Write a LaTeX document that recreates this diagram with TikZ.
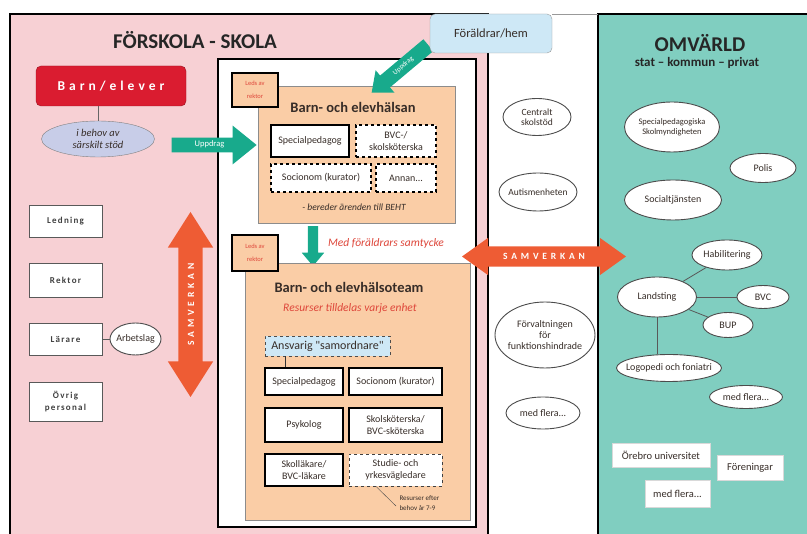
\documentclass[tikz,border=0pt]{standalone}
\usepackage{fontspec}
\setmainfont{Carlito}[Ligatures=TeXOff]
\usepackage{tikz}
\usetikzlibrary{shapes.geometric, shapes.arrows}
\definecolor{pinkbg}{RGB}{247,208,212}
\definecolor{tealbg}{RGB}{128,206,192}
\definecolor{peach}{RGB}{250,205,166}
\definecolor{barnred}{RGB}{218,28,48}
\definecolor{lavender}{RGB}{200,205,232}
\definecolor{uppgreen}{RGB}{24,170,140}
\definecolor{samorange}{RGB}{238,92,52}
\definecolor{hemblue}{RGB}{206,232,246}
\definecolor{notered}{RGB}{222,70,58}
\definecolor{ink}{RGB}{55,45,40}
\tikzstyle{member} = [draw=black, line width=1.4pt, fill=white, align=center, inner sep=0pt, text=ink, font=\fontsize{10}{11.5}\selectfont]
\tikzstyle{maybe} = [member, dashed, line width=1.1pt]
\tikzstyle{staff} = [draw=black!65, line width=0.9pt, fill=white, align=center, inner sep=0pt, minimum width=73pt, text=black!75, font=\fontsize{9}{12}\selectfont\bfseries\addfontfeature{LetterSpace=14}]
\tikzstyle{oval} = [ellipse, draw=black!70, line width=0.9pt, fill=white, align=center, inner sep=-3pt, text=ink, font=\fontsize{10}{11}\selectfont]
\tikzstyle{plate} = [fill=white, draw=white!85!black, inner sep=0pt, text=ink, font=\fontsize{10.5}{12}\selectfont]
\tikzstyle{ledsav} = [draw=black, line width=1.1pt, fill=peach, align=center, inner sep=0pt, minimum width=46pt, text=notered, font=\fontsize{6.5}{13}\selectfont]
\tikzstyle{note} = [text=notered, font=\fontsize{11.5}{13}\selectfont\itshape]
\tikzstyle{heading} = [text=ink, font=\fontsize{14.5}{16}\selectfont\bfseries]
\tikzstyle{uppdrag} = [single arrow, fill=uppgreen, text=white, inner xsep=0pt, single arrow head indent=0pt, text height=5pt, text depth=1.5pt, font=\fontsize{8.5}{9}\selectfont]
\tikzstyle{samverkan} = [double arrow, fill=samorange, text=white, inner xsep=0pt, double arrow head indent=0pt, text height=7pt, text depth=0pt, font=\fontsize{9.5}{10}\selectfont\bfseries\addfontfeature{LetterSpace=40}]

\begin{document}
\begin{tikzpicture}[x=1pt, y=-1pt]
	\useasboundingbox (0,0) rectangle (807,534);
	\fill[pinkbg] (10,14) rectangle (488,534);
	\fill[tealbg] (598,14) rectangle (807,534);
	\draw[line width=1.6pt] (10,534) -- (10,14) -- (488,14) -- (488,534);
	\draw[line width=1.6pt] (598,534) -- (598,14) -- (807,14);
	\draw[black!40] (552,14) -- (598,14);
	\draw[line width=1.3pt, fill=white] (218,59) rectangle (476,527);

	\node[text=black!85, font=\fontsize{21}{23}\selectfont\bfseries] (skola) at (195,40) {FÖRSKOLA - SKOLA};
	\node[text=black!85, font=\fontsize{21}{23}\selectfont\bfseries] (omv) at (700,43) {OMVÄRLD};
	\node[text=black!85, font=\fontsize{13}{15}\selectfont\bfseries] (svk) at (697,63) {stat – kommun – privat};

	\node[draw=barnred!70!black, fill=barnred, rounded corners=5pt, minimum width=150pt, minimum height=40pt, text=white, font=\fontsize{13.5}{15}\selectfont\bfseries\addfontfeature{LetterSpace=30}] (barn) at (111,86) {Barn/elever};
	\node[ellipse, draw=black!50, fill=lavender, minimum width=113pt, minimum height=36pt, inner sep=-4pt, align=center, text=ink, font=\fontsize{10.5}{11.5}\selectfont\itshape] (stod) at (98,139) {i behov av\\särskilt stöd};
	\draw[black!60] (stod.north) -- (stod.north |- barn.south);
	\node[uppdrag, minimum height=85pt, inner ysep=4pt, single arrow head extend=12pt, single arrow tip angle=78] (upp1) at (209.5,145) {Uppdrag};

	\node[staff, minimum height=32pt] (ledn) at (65.5,221) {Ledning};
	\node[staff, minimum height=34pt] (rekt) at (65.5,280) {Rektor};
	\node[staff, minimum height=32pt] (lara) at (65.5,339) {Lärare};
	\node[staff, minimum height=39pt] (ovr) at (65.5,401.5) {Övrig\\personal};
	\node[oval, minimum width=51pt, minimum height=32pt, inner sep=-5pt] (arbl) at (135.5,339) {Arbetslag};
	\draw[black!65] (lara) -- (arbl);
	\node[samverkan, rotate=90, minimum height=185pt, inner ysep=8.5pt, double arrow head extend=10.5pt, double arrow tip angle=65] (samv1) at (190.5,304.5) {SAMVERKAN};

	\node[draw=black!45, fill=peach, minimum width=197pt, minimum height=137pt] (elevh) at (356.5,154.5) {};
	\node[ledsav, minimum height=34pt] (led1) at (255,90) {Leds av\\rektor};
	\node[heading] (elevht) at (353,107) {Barn- och elevhälsan};
	\node[member, minimum width=78pt, minimum height=32pt] (spec1) at (310,141) {Specialpedagog};
	\node[maybe, minimum width=80pt, minimum height=32pt] (bvc1) at (396,141) {BVC-/\\skolsköterska};
	\node[maybe, minimum width=100pt, minimum height=28pt] (soc1) at (321,178) {Socionom (kurator)};
	\node[maybe, minimum width=60pt, minimum height=28pt] (annan) at (406,178) {Annan...};
	\node[text=ink, font=\fontsize{9.5}{11}\selectfont\itshape] (bereder) at (354,207) {- bereder ärenden till BEHT};

	\node[uppdrag, rotate=-90, minimum height=40pt, text height=0pt, text depth=0pt, inner ysep=5pt, single arrow head extend=6pt, single arrow tip angle=80] (ned) at (313,243) {};
	\node[note] (samt) at (386,243) {Med föräldrars samtycke};

	\node[draw=black!45, fill=peach, minimum width=225pt, minimum height=257pt] (team) at (357.5,391.5) {};
	\node[ledsav, minimum height=36pt] (led2) at (255,253) {Leds av\\rektor};
	\node[heading] (teamt) at (349,287) {Barn- och elevhälsoteam};
	\node[note] (resurs) at (350,308) {Resurser tilldelas varje enhet};
	\node[maybe, fill=hemblue, draw=black!70, line width=0.9pt, minimum width=125pt, minimum height=20pt, font=\fontsize{12}{13}\selectfont] (samord) at (327.5,346) {Ansvarig "samordnare"};
	\node[member, minimum width=78pt, minimum height=27pt] (spec2) at (304,381.5) {Specialpedagog};
	\node[member, minimum width=93pt, minimum height=27pt] (soc2) at (395.5,381.5) {Socionom (kurator)};
	\node[member, minimum width=78pt, minimum height=34pt] (psyk) at (304,425) {Psykolog};
	\node[member, minimum width=93pt, minimum height=34pt] (skol) at (395.5,425) {Skolsköterska/\\BVC-sköterska};
	\node[member, minimum width=78pt, minimum height=32pt] (lakare) at (304,470) {Skolläkare/\\BVC-läkare};
	\node[maybe, draw=black!75, line width=0.9pt, minimum width=93pt, minimum height=32pt] (syv) at (395.5,470) {Studie- och\\yrkesvägledare};
	\draw[black!80, line width=0.9pt] ([xshift=-42pt]samord.south) -- ([xshift=-42pt]samord.south |- spec2.north);
	\node[anchor=west, align=left, text=ink, font=\fontsize{7}{10}\selectfont] (behov) at (396,503) {Resurser efter\\behov år 7-9};
	\draw[black!70] ([xshift=-19.5pt]syv.south) -- ([yshift=-3pt]behov.west);

	\node[oval, minimum width=68pt, minimum height=37pt, font=\fontsize{9.5}{10.5}\selectfont] (central) at (537,117) {Centralt\\skolstöd};
	\node[oval, minimum width=78pt, minimum height=38pt, font=\fontsize{9.5}{10.5}\selectfont] (autism) at (538,192) {Autismenheten};
	\node[samverkan, minimum height=164pt, inner ysep=6.5pt, double arrow head extend=8.5pt, double arrow tip angle=71] (samv2) at (544,256.5) {SAMVERKAN};
	\node[oval, minimum width=100pt, minimum height=66pt, inner sep=-6pt] (forv) at (545,335) {Förvaltningen\\för\\funktionshindrade};
	\node[oval, minimum width=74pt, minimum height=32pt] (mfl1) at (543,413) {med flera...};

	\node[uppdrag, rotate=40, shape border rotate=180, minimum height=74pt, inner ysep=5pt, text height=4pt, text depth=1pt, single arrow head extend=7pt, single arrow tip angle=80, font=\fontsize{7}{8}\selectfont] (upp2) at (403.5,66) {Uppdrag};
	\node[draw=black!40, fill=hemblue, rounded corners=5pt, minimum width=122pt, minimum height=39pt, text=ink, font=\fontsize{12.5}{14}\selectfont] (hem) at (491,33.5) {Föräldrar/hem};

	\node[oval, minimum width=95pt, minimum height=50pt, font=\fontsize{8.5}{10}\selectfont] (spsm) at (672,127) {Specialpedagogiska\\Skolmyndigheten};
	\node[oval, minimum width=66pt, minimum height=29pt] (polis) at (763,168) {Polis};
	\node[oval, minimum width=97pt, minimum height=40pt] (soctj) at (673,200) {Socialtjänsten};
	\node[oval, minimum width=70pt, minimum height=30pt] (habil) at (727,255) {Habilitering};
	\node[oval, minimum width=79pt, minimum height=40pt] (landst) at (657,297) {Landsting};
	\node[oval, minimum width=52pt, minimum height=23pt] (bvc2) at (763,297) {BVC};
	\node[oval, minimum width=50pt, minimum height=25pt] (bup) at (728,325) {BUP};
	\node[oval, minimum width=105pt, minimum height=27pt, inner sep=-7pt] (logo) at (669,368) {Logopedi och foniatri};
	\node[oval, minimum width=73pt, minimum height=23pt] (mfl2) at (746,397) {med flera...};
	\draw[black!65, line width=0.8pt] (landst) -- (habil);
	\draw[black!65, line width=0.8pt] (landst) -- (bvc2);
	\draw[black!65, line width=0.8pt] (landst) -- (bup);
	\draw[black!65, line width=0.8pt] (landst.south) -- (landst.south |- logo.north);

	\node[plate, minimum width=98pt, minimum height=24pt] (orebro) at (661,455) {Örebro universitet};
	\node[plate, minimum width=66pt, minimum height=25pt] (foren) at (750,467.5) {Föreningar};
	\node[plate, minimum width=65pt, minimum height=27pt] (mfl3) at (677.5,493.5) {med flera...};
\end{tikzpicture}
\end{document}
